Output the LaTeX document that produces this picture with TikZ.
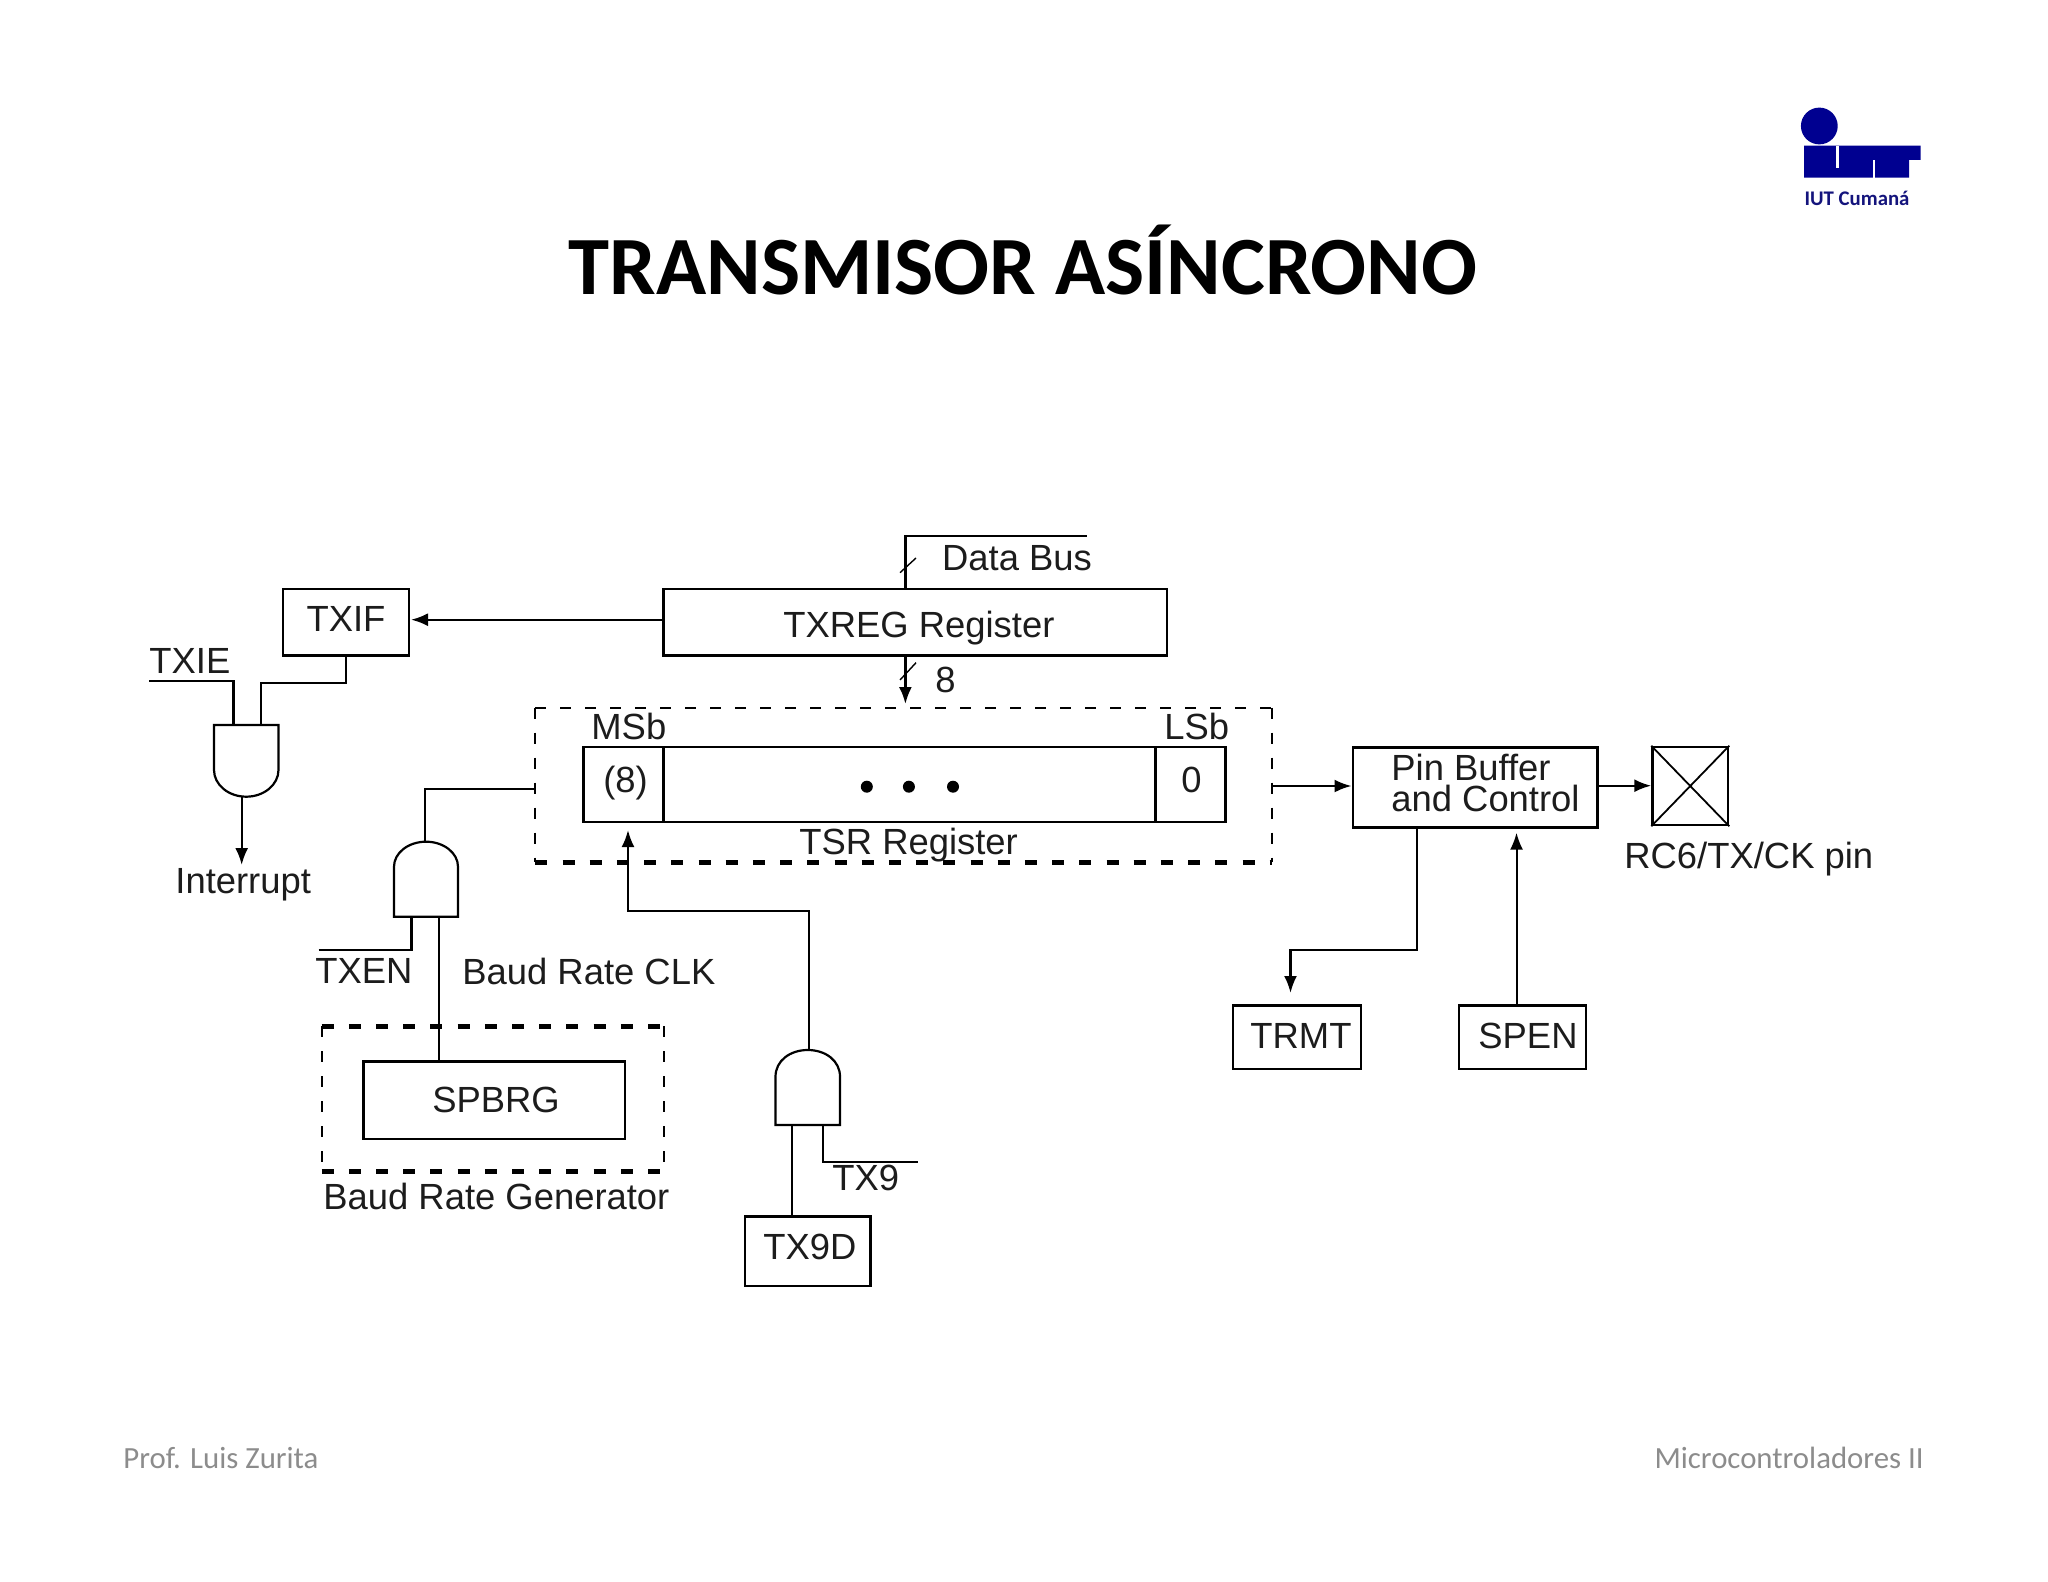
\documentclass[tikz,border=0pt]{standalone}
\usepackage{fontspec}
\setmainfont{Liberation Sans}
\newfontfamily\slidefont{Carlito}
\usetikzlibrary{arrows.meta,fit}
\definecolor{ink}{HTML}{1C1C1C}
\definecolor{footgrey}{HTML}{8C8C8C}
\definecolor{logoblue}{HTML}{000090}
\definecolor{logotext}{HTML}{14147C}
\tikzset{
  wire/.style={line width=1.2pt,draw=black},
  thinwire/.style={line width=1pt,draw=black},
  arrowed/.style={-{Latex[length=8.5pt,width=6.5pt]}},
  boxshape/.style={draw=black,line width=1.25pt,inner sep=0pt,minimum size=0pt},
  frame/.style={inner sep=0pt,minimum size=0pt},
  dashthin/.style={line width=1pt,dash pattern=on 5.5pt off 7pt},
  dashthick/.style={line width=2.3pt,dash pattern=on 6pt off 7.6pt},
  gate/.style={draw=black,line width=1.1pt,fill=white},
  lbl/.style={anchor=base west,inner sep=0pt,text=ink,font=\fontsize{18.2}{20}\selectfont},
  lblc/.style={anchor=base,inner sep=0pt,text=ink,font=\fontsize{18.2}{20}\selectfont},
  foot/.style={inner sep=0pt,text=footgrey,font=\slidefont\fontsize{15.4}{17}\selectfont},
}
\begin{document}
\begin{tikzpicture}[x=0.5pt,y=-0.5pt]
\useasboundingbox (0,0) rectangle (2048,1582);

% slide furniture
\node[anchor=base,inner sep=0pt,text=black,font=\slidefont\bfseries\fontsize{41.4}{46}\selectfont] (title) at (1023,295) {TRANSMISOR ASÍNCRONO};
\node[foot,anchor=base west] (author) at (123,1468) {Prof. Luis Zurita};
\node[foot,anchor=base east] (course) at (1924,1468) {Microcontroladores II};

% logo
\fill[logoblue] (1819.3,126) circle[radius=9.2pt];
\fill[logoblue] (1804,145.7) -- (1920.7,145.7) -- (1920.7,160) -- (1909,160) -- (1909,177.7) -- (1804,177.7) -- cycle;
\fill[white] (1836,145.7) rectangle (1839.3,167.7);
\fill[white] (1873,160) rectangle (1875,177.7);
\node[anchor=base,inner sep=0pt,text=logotext,font=\slidefont\bfseries\fontsize{10.4}{12}\selectfont] (logotxt) at (1857,205.7) {IUT Cumaná};

% boxes
\node[boxshape,fit={(283,589)(409,655.7)}] (txif) {};
\node[boxshape,fit={(663.5,589)(1167,655.7)}] (txreg) {};
\node[frame,fit={(535.7,708)(1272,862)}] (tsrframe) {};
\node[boxshape,fit={(583.5,747)(1225.4,822)}] (tsr) {};
\draw[boxshape] (663.5,747) -- (663.5,822);
\draw[boxshape] (1155.6,747) -- (1155.6,822);
\node[frame,fit={(322,1026.7)(664,1171)}] (genframe) {};
\node[boxshape,fit={(363.5,1061.7)(625,1139)}] (spbrg) {};
\node[boxshape,fit={(744.8,1216.7)(870.5,1286)}] (txnined) {};
\node[boxshape,fit={(1352.8,747.3)(1597.7,827.7)}] (pinbuf) {};
\node[boxshape,fit={(1652.5,747)(1728,825)}] (pin) {};
\draw[thinwire,line width=.9pt] (pin.north west) -- (pin.south east) (pin.north east) -- (pin.south west);
\node[boxshape,fit={(1233,1005.7)(1361,1069)}] (trmt) {};
\node[boxshape,fit={(1459,1005.7)(1586,1069)}] (spen) {};

% dashed frames
\draw[dashthin] (tsrframe.north west) -- (tsrframe.north east);
\draw[dashthick] (tsrframe.south west) -- (tsrframe.south east);
\draw[dashthin] (tsrframe.north west) -- (tsrframe.south west);
\draw[dashthin] (tsrframe.north east) -- (tsrframe.south east);
\draw[dashthick] (genframe.north west) -- (genframe.north east);
\draw[dashthick] (genframe.south west) -- (genframe.south east);
\draw[dashthin] (genframe.north west) -- (genframe.south west);
\draw[dashthin] (genframe.north east) -- (genframe.south east);

% dots
\fill[black] (866.8,786.7) circle[radius=3pt] (908.9,786.7) circle[radius=3pt] (953,786.7) circle[radius=3pt];

% gates
\draw[gate] (214,725) -- (278.5,725) -- (278.5,770) .. controls (278.5,784.7) and (264,796.7) .. (246.2,796.7) .. controls (228.4,796.7) and (214,784.7) .. (214,770) -- cycle;
\draw[gate] (394,916.7) -- (458,916.7) -- (458,866.7) .. controls (458,852.9) and (443.7,841.7) .. (426,841.7) .. controls (408.3,841.7) and (394,852.9) .. (394,866.7) -- cycle;
\draw[gate] (775.5,1125) -- (840,1125) -- (840,1076.7) .. controls (840,1060.7) and (825.6,1050) .. (807.8,1050) .. controls (790,1050) and (775.5,1060.7) .. (775.5,1076.7) -- cycle;

% named connection points
\coordinate (g1a) at (233.6,725);
\coordinate (g1b) at (261,725);
\coordinate (g1out) at (241.7,796.7);
\coordinate (g2out) at (424.7,841.7);
\coordinate (g2en) at (411.6,916.7);
\coordinate (g2clk) at (438.6,916.7);
\coordinate (g3out) at (808.7,1050);
\coordinate (g3d) at (792,1125);
\coordinate (g3en) at (822.8,1125);
\coordinate (txieend) at (149,680.7);
\coordinate (txenend) at (318.7,950);
\coordinate (txnineend) at (918,1161.7);
\coordinate (intend) at (241.7,865);
\coordinate (busend) at (1086.7,535.7);
\coordinate (busin) at (905.4,589);
\coordinate (busout) at (905.4,655.7);
\coordinate (tsrin) at (905.4,704);
\coordinate (msbin) at (628,830);
\coordinate (trmtin) at (1290.5,993);
\coordinate (spenin) at (1516.5,832.7);
\coordinate (spenout) at (1516.5,1005.7);
\coordinate (pinbufout) at (1416.8,827.7);

% connectors
\draw[wire,arrowed] (txreg.west |- 0,619.7) -- (411,619.7);
\draw[wire] (txieend) -| (g1a);
\draw[wire] (txif.south) |- (261,683) -- (g1b);
\draw[wire,arrowed] (g1out) -- (intend);
\draw[wire] (tsrframe.west |- 0,789) -| (g2out);
\draw[wire] (txenend) -| (g2en);
\draw[thinwire] (g2clk) -- (g2clk |- spbrg.north);
\draw[wire,arrowed] (g3out) |- (628,911) -- (msbin);
\draw[wire] (g3d) -- (g3d |- txnined.north);
\draw[wire] (g3en) |- (txnineend);
\draw[thinwire,line width=1.1pt] (busend) -| (busin);
\draw[wire,arrowed] (busout) -- (tsrin);
\draw[wire,arrowed] (1272.8,786) -- (pinbuf.west |- 0,786);
\draw[wire,arrowed] (pinbuf.east |- 0,785.7) -- (pin.west |- 0,785.7);
\draw[wire,arrowed] (pinbufout) |- (1290.5,950) -- (trmtin);
\draw[thinwire,arrowed] (spenout) -- (spenin);

% bus slashes
\draw[thinwire,line width=.7pt] (900,572.7) -- (916,558);
\draw[thinwire,line width=.7pt] (900,680) -- (916,662.7);

% labels
\node[lblc] (ltxif) at (346,632) {TXIF};
\node[lbl] (ltxie) at (149,673) {TXIE};
\node[lbl] (lint) at (175,893.5) {Interrupt};
\node[lbl] (ldb) at (941.7,570.7) {Data Bus};
\node[lbl] (ltxreg) at (783,637.5) {TXREG Register};
\node[lbl] (leight) at (935,692) {8};
\node[lbl] (lmsb) at (591,739) {MSb};
\node[lbl] (llsb) at (1164,739) {LSb};
\node[lblc] (lreg8) at (625.6,792.7) {(8)};
\node[lblc] (lreg0) at (1191.6,792.7) {0};
\node[lbl] (ltsr) at (799,854) {TSR Register};
\node[lbl] (ltxen) at (315,983) {TXEN};
\node[lbl] (lclk) at (462,984) {Baud Rate CLK};
\node[lblc] (lspbrg) at (496,1112.5) {SPBRG};
\node[lbl] (lgen) at (323,1209) {Baud Rate Generator};
\node[lbl] (ltxnine) at (832,1190) {TX9};
\node[lbl] (ltxnined) at (763,1259) {TX9D};
\node[anchor=north west,inner sep=0pt,align=left,text=ink,font=\fontsize{18.2}{15.5}\selectfont] (lpin) at (1391,754) {Pin Buffer\\and Control};
\node[lbl] (lrc) at (1624,868.5) {RC6/TX/CK pin};
\node[lbl] (ltrmt) at (1250,1048) {TRMT};
\node[lbl] (lspen) at (1478,1048) {SPEN};
\end{tikzpicture}
\end{document}
